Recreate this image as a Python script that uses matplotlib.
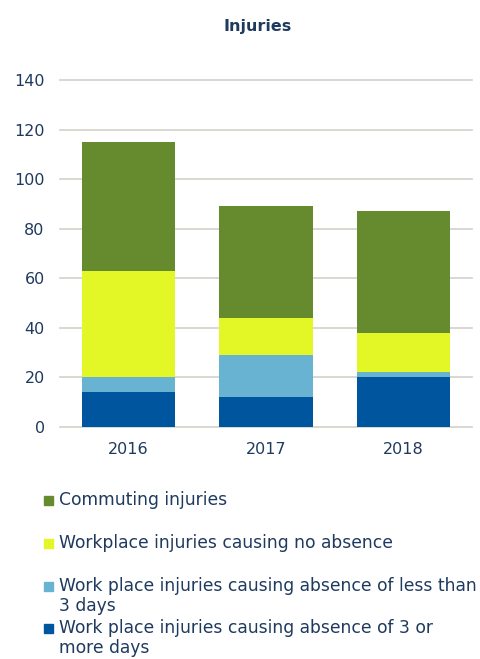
import matplotlib
matplotlib.use("Agg")
import matplotlib.pyplot as plt
from matplotlib.patches import Rectangle
import numpy as np

years = ["2016", "2017", "2018"]
three_plus_days = [14, 12, 20]
less_than_3_days = [6, 17, 2]
no_absence = [43, 15, 16]
commuting = [52, 45, 49]

series = [
    ("Work place injuries causing absence of 3 or\nmore days", three_plus_days, "#00569E"),
    ("Work place injuries causing absence of less than\n3 days", less_than_3_days, "#68B3D1"),
    ("Workplace injuries causing no absence", no_absence, "#E2F725"),
    ("Commuting injuries", commuting, "#668B2E"),
]

text_color = "#1F3A5F"
plt.rcParams["font.family"] = ["DejaVu Sans"]

fig = plt.figure(figsize=(4.8, 6.59), dpi=100)
W, H = 480, 659
ax = fig.add_axes([60 / W, 1 - 427 / H, (472 - 60) / W, (427 - 80) / H])

x = np.arange(len(years))
bottom = np.zeros(len(years))
for label, vals, color in series:
    ax.bar(x, vals, width=0.68, bottom=bottom, color=color, zorder=3)
    bottom += np.array(vals)

ax.set_xlim(-0.5, 2.5)
ax.set_ylim(0, 140)
ax.set_yticks(np.arange(0, 141, 20))
ax.set_xticks(x)
ax.set_xticklabels(years)
ax.grid(axis="y", color="#D2D2CA", linewidth=1.2, zorder=0)
for gl in ax.get_ygridlines():
    gl.set_clip_on(False)
for s in ax.spines.values():
    s.set_visible(False)
ax.tick_params(axis="both", length=0, labelsize=11.5, colors=text_color)
ax.tick_params(axis="y", pad=11)
ax.tick_params(axis="x", pad=11)

fig.text(258 / W, 1 - 27 / H, "Injuries", ha="center", va="center",
         fontsize=11.5, fontweight="bold", color=text_color)

# legend (manual, ordered top to bottom)
legend_items = [series[3], series[2], series[1], series[0]]
legend_y = [501, 544, 587, 629]
for (label, vals, color), yy in zip(legend_items, legend_y):
    fig.patches.append(Rectangle((44 / W, 1 - (yy + 4) / H), 9 / W, 9 / H,
                                 transform=fig.transFigure, color=color))
    fig.text(59 / W, 1 - (yy - 10) / H, label, ha="left", va="top",
             fontsize=12.3, color=text_color, linespacing=1.12)

fig.savefig("out.png", dpi=100)
